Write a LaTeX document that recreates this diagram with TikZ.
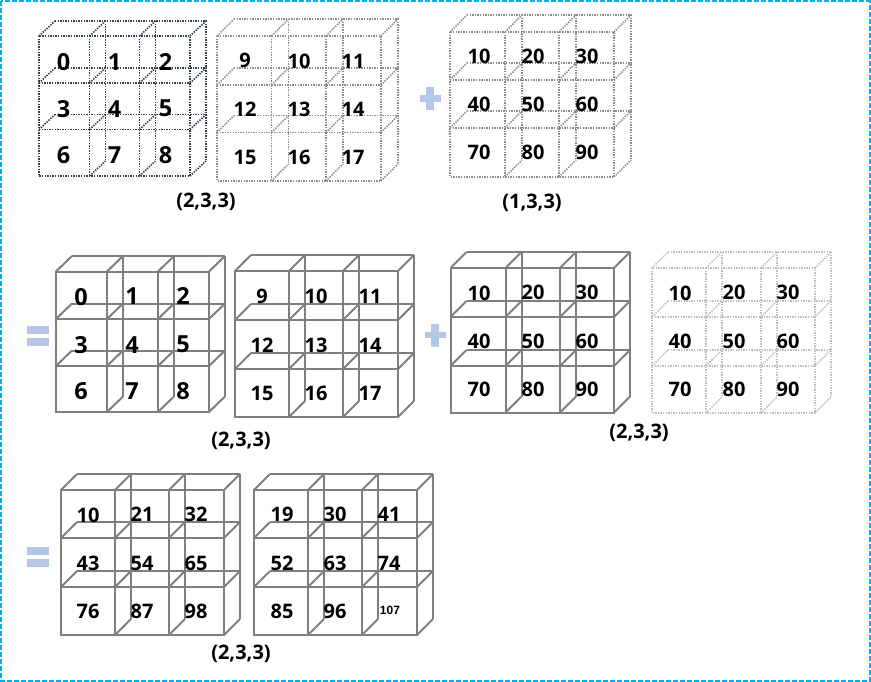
\documentclass[tikz,border=0pt]{standalone}
\usepackage{fontspec}
\setmainfont{Open Sans}
\newfontfamily\arialish{Liberation Sans}
\definecolor{borderc}{HTML}{00B0F0}
\definecolor{opc}{HTML}{B4C7E7}
\definecolor{darkdot}{HTML}{333F50}
\definecolor{graysolid}{HTML}{7F7F7F}
\definecolor{graydot}{HTML}{8C8C8C}
\definecolor{lightdot}{HTML}{BFBFBF}
\tikzset{
  frameline/.style={draw=borderc,line width=2pt,dash pattern=on 5pt off 2pt},
  solidgrid/.style={draw=graysolid,line width=2pt},
  dotdark/.style={draw=darkdot,line width=1.6pt,dash pattern=on 1.4pt off 1.2pt},
  dotgray/.style={draw=graydot,line width=1.6pt,dash pattern=on 1.4pt off 1.2pt},
  dotlight/.style={draw=lightdot,line width=1.6pt,dash pattern=on 1.4pt off 1.2pt},
  numtxt/.style={font=\bfseries\fontsize{20}{20}\selectfont,inner sep=0pt,text=black,yshift=-0.7pt},
  bignum/.style={font=\bfseries\fontsize{23.5}{23.5}\selectfont,inner sep=0pt,text=black,yshift=-0.7pt},
  smallnum/.style={font=\arialish\bfseries\fontsize{12}{12}\selectfont,inner sep=0pt,text=black},
  shapetxt/.style={font=\bfseries\fontsize{20}{20}\selectfont,inner sep=0pt,text=black,yshift=-1pt},
  opfill/.style={fill=opc,draw=none}
}
\newcommand{\cubegrid}[9]{%
  \draw[#1] (#2,#6) rectangle (#5,#9)
    (#2,#7) -- (#5,#7) (#2,#8) -- (#5,#8)
    (#3,#6) -- (#3,#9) (#4,#6) -- (#4,#9);
  \draw[#1]
    (#2+\gdx,#6-\gdy) -- (#5+\gdx,#6-\gdy)
    (#2+\gdx,#7-\gdy) -- (#5+\gdx,#7-\gdy)
    (#2+\gdx,#8-\gdy) -- (#5+\gdx,#8-\gdy)
    (#3+\gdx,#6-\gdy) -- (#3+\gdx,#9-\gdy)
    (#4+\gdx,#6-\gdy) -- (#4+\gdx,#9-\gdy)
    (#5+\gdx,#6-\gdy) -- (#5+\gdx,#9-\gdy);
  \foreach \yy in {#6,#7,#8} \foreach \xx in {#2,#3,#4,#5}
    \draw[#1] (\xx,\yy) -- (\xx+\gdx,\yy-\gdy);
  \foreach \xx in {#3,#4,#5}
    \draw[#1] (\xx,#9) -- (\xx+\gdx,#9-\gdy);
}
\newcommand{\plusop}[2]{% cx, cy
  \fill[opfill] (#1-10.5,#2-3.4) rectangle (#1+10.5,#2+3.4);
  \fill[opfill] (#1-3.8,#2-11.5) rectangle (#1+3.8,#2+11.5);
}
\newcommand{\eqop}[2]{% cx, cy
  \fill[opfill] (#1-11,#2-10) rectangle (#1+11,#2-2);
  \fill[opfill] (#1-11,#2+2) rectangle (#1+11,#2+10);
}
\begin{document}
\begin{tikzpicture}[x=1pt,y=-1pt]
\useasboundingbox (0,0) rectangle (871,682);
\fill[white] (0,0) rectangle (871,682);
\draw[frameline] (1,1) rectangle (869.5,680.5);

\def\gdx{16}\def\gdy{15}
\cubegrid{dotdark}{39}{89.5}{139.5}{190}{36}{83}{129.5}{176}
\def\gdx{17}\def\gdy{17}
\cubegrid{dotgray}{217}{271.5}{326}{381}{36}{85}{132.5}{181}
\def\gdx{17}\def\gdy{17}
\cubegrid{dotgray}{450}{505}{559}{614}{32}{80}{128}{177}
\def\gdx{16}\def\gdy{15.5}
\cubegrid{solidgrid}{56}{107}{158}{209}{271.5}{319}{366}{412}
\def\gdx{16}\def\gdy{16}
\cubegrid{solidgrid}{235}{289}{343}{398}{271}{320}{369}{417}
\cubegrid{solidgrid}{450.5}{505.5}{560}{614}{268}{317}{366}{412.5}
\cubegrid{dotlight}{652}{706}{761}{815}{268}{317}{366}{413}
\cubegrid{solidgrid}{61}{115}{169}{224}{490}{538}{587}{635}
\cubegrid{solidgrid}{254}{308}{362}{417}{490}{538}{587}{635}

\node[bignum] (a0) at (63.5,61) {0};
\node[bignum] (a1) at (114.5,61) {1};
\node[bignum] (a2) at (165.5,61) {2};
\node[bignum] (a3) at (63.5,108) {3};
\node[bignum] (a4) at (114.5,108) {4};
\node[bignum] (a5) at (165.5,108) {5};
\node[bignum] (a6) at (63.5,154) {6};
\node[bignum] (a7) at (114.5,154) {7};
\node[bignum] (a8) at (165.5,154) {8};

\node[numtxt] (b0) at (245,60) {9};
\node[numtxt] (b1) at (299,61) {10};
\node[numtxt] (b2) at (353,61) {11};
\node[numtxt] (b3) at (245,109) {12};
\node[numtxt] (b4) at (299,109) {13};
\node[numtxt] (b5) at (353,109) {14};
\node[numtxt] (b6) at (245,157) {15};
\node[numtxt] (b7) at (299,157) {16};
\node[numtxt] (b8) at (353,157) {17};

\node[numtxt] (c0) at (479,56) {10};
\node[numtxt] (c1) at (533,56) {20};
\node[numtxt] (c2) at (587,56) {30};
\node[numtxt] (c3) at (479,104) {40};
\node[numtxt] (c4) at (533,104) {50};
\node[numtxt] (c5) at (587,104) {60};
\node[numtxt] (c6) at (479,152) {70};
\node[numtxt] (c7) at (533,152) {80};
\node[numtxt] (c8) at (587,152) {90};

\node[bignum] (d0) at (81,296) {0};
\node[bignum] (d1) at (132,295) {1};
\node[bignum] (d2) at (183,295) {2};
\node[bignum] (d3) at (81,344) {3};
\node[bignum] (d4) at (132,344) {4};
\node[bignum] (d5) at (183,344) {5};
\node[bignum] (d6) at (81,390) {6};
\node[bignum] (d7) at (132,390) {7};
\node[bignum] (d8) at (183,390) {8};

\node[numtxt] (e0) at (262,296) {9};
\node[numtxt] (e1) at (316,296) {10};
\node[numtxt] (e2) at (370,296) {11};
\node[numtxt] (e3) at (262,345) {12};
\node[numtxt] (e4) at (316,345) {13};
\node[numtxt] (e5) at (370,345) {14};
\node[numtxt] (e6) at (262,393) {15};
\node[numtxt] (e7) at (316,393) {16};
\node[numtxt] (e8) at (370,393) {17};

\node[numtxt] (f0) at (479,293) {10};
\node[numtxt] (f1) at (533,292) {20};
\node[numtxt] (f2) at (587,292) {30};
\node[numtxt] (f3) at (479,341) {40};
\node[numtxt] (f4) at (533,341) {50};
\node[numtxt] (f5) at (587,341) {60};
\node[numtxt] (f6) at (479,389) {70};
\node[numtxt] (f7) at (533,389) {80};
\node[numtxt] (f8) at (587,389) {90};

\node[numtxt] (g0) at (680,293) {10};
\node[numtxt] (g1) at (734,292) {20};
\node[numtxt] (g2) at (788,292) {30};
\node[numtxt] (g3) at (680,341) {40};
\node[numtxt] (g4) at (734,341) {50};
\node[numtxt] (g5) at (788,341) {60};
\node[numtxt] (g6) at (680,389) {70};
\node[numtxt] (g7) at (734,389) {80};
\node[numtxt] (g8) at (788,389) {90};

\node[numtxt] (h0) at (88,515) {10};
\node[numtxt] (h1) at (142,514) {21};
\node[numtxt] (h2) at (196,514) {32};
\node[numtxt] (h3) at (88,563) {43};
\node[numtxt] (h4) at (142,563) {54};
\node[numtxt] (h5) at (196,563) {65};
\node[numtxt] (h6) at (88,611) {76};
\node[numtxt] (h7) at (142,611) {87};
\node[numtxt] (h8) at (196,611) {98};

\node[numtxt] (i0) at (282,514) {19};
\node[numtxt] (i1) at (335,514) {30};
\node[numtxt] (i2) at (389,514) {41};
\node[numtxt] (i3) at (282,563) {52};
\node[numtxt] (i4) at (335,563) {63};
\node[numtxt] (i5) at (389,563) {74};
\node[numtxt] (i6) at (282,611) {85};
\node[numtxt] (i7) at (335,611) {96};
\node[smallnum] (i8) at (390,610.5) {107};

\node[shapetxt] (s1) at (206,201) {(2,3,3)};
\node[shapetxt] (s2) at (532,202) {(1,3,3)};
\node[shapetxt] (s3) at (241,440) {(2,3,3)};
\node[shapetxt] (s4) at (639,432) {(2,3,3)};
\node[shapetxt] (s5) at (241,653) {(2,3,3)};

\plusop{430}{98.5}
\plusop{435}{335}
\eqop{37.5}{336}
\eqop{37.5}{557}
\end{tikzpicture}
\end{document}
